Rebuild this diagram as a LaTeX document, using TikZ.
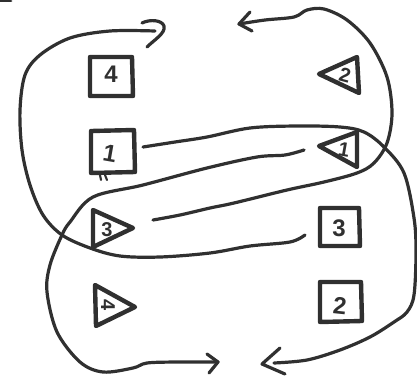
\documentclass[tikz,border=0pt]{standalone}
\usepackage{fontspec}
\setmainfont{Liberation Sans}
\definecolor{ink}{HTML}{303030}
\tikzset{
  x=0.75pt,y=-0.75pt,
  pen/.style={draw=ink,line width=2.1pt,line cap=round,line join=round},
  frame/.style={draw=ink,line width=3.3pt,line cap=round,line join=round},
  curve/.style={draw=ink,line width=2.4pt,line cap=round,line join=round},
  digit/.style={text=ink,inner sep=0pt,font=\bfseries\fontsize{18}{18}\selectfont},
  smalldigit/.style={text=ink,inner sep=0pt,font=\bfseries\fontsize{15}{15}\selectfont},
}
\begin{document}
\begin{tikzpicture}
\useasboundingbox (0,0) rectangle (417,375);
% fragment at the top edge
\draw[pen] (0,1) -- (11,1);
% boxes
\draw[frame] (90,57) -- (132,57) -- (133,96) -- (90,96) -- cycle;
\draw[frame] (91,131) -- (134,130) -- (135,172) -- (91,173) -- cycle;
\draw[frame] (320,208) -- (359,208) -- (360,246) -- (320,246) -- cycle;
\draw[frame] (320,282) -- (361,282) -- (362,321) -- (320,322) -- cycle;
\draw[pen,line width=1.6pt] (100,175) -- (101,180) (105,175) -- (107,180);
% triangles
\draw[frame] (357,57) -- (319,74) -- (359,93) -- cycle;
\draw[frame] (357,132) -- (319,146) -- (357,167) -- cycle;
\draw[frame] (93,210) -- (133,228) -- (93,247) -- cycle;
\draw[frame] (95,285) -- (135,307) -- (96,326) -- cycle;
% labels
\node[digit] (b4) at (111,74) {4};
\node[digit,rotate=-10] (b1) at (110,154) {1};
\node[digit] (b3) at (339,228) {3};
\node[digit,rotate=-6] (b2) at (340,306) {2};
\node[smalldigit,rotate=-15] (t2) at (345,75) {2};
\node[smalldigit,rotate=-10] (t1) at (344,150) {1};
\node[smalldigit] (t3) at (107,230) {3};
\node[smalldigit,rotate=-90] (t4) at (108,305) {4};
% connector ends
\coordinate (aS) at (305,235);
\coordinate (aE) at (155,31);
\coordinate (bS) at (153,220);
\coordinate (bE) at (239,24);
\coordinate (cS) at (143,147);
\coordinate (cE) at (262,364);
\coordinate (dS) at (304,150);
\coordinate (dE) at (218,362);
% curves
\draw[curve] plot[smooth,tension=0.55] coordinates {(aS) (290,242) (250,246) (210,253) (160,257) (120,256) (90,248) (62,235) (43,215) (30,185) (22,150) (20,110) (25,75) (40,55) (70,38) (110,31) (aE)};
\draw[curve] plot[smooth,tension=0.55] coordinates {(bS) (180,215) (210,208) (234,203) (287,190) (324,182) (357,173) (374,163) (387,143) (392,113) (387,77) (370,43) (347,20) (324,9) (307,10) (294,17) (265,20) (bE)};
\draw[curve] plot[smooth,tension=0.55] coordinates {(cS) (175,142) (207,137) (250,128) (297,126) (340,127) (364,132) (384,147) (404,173) (414,218) (416,252) (414,295) (407,312) (394,322) (370,337) (340,350) (307,360) (274,363)};
\draw[curve] plot[smooth,tension=0.55] coordinates {(dS) (285,155) (257,157) (207,168) (143,185) (93,197) (70,222) (62,235) (50,265) (47,292) (57,332) (80,362) (103,372) (133,368) (147,363) (177,362) (dE)};
% arrowheads
\draw[curve] (147,47) .. controls (154,40) and (166,33) .. (164,26) .. controls (162,20) and (150,19) .. (142,23);
\draw[curve] (250,12) -- (bE) -- (252,31);
\draw[curve] (280,348) -- (cE) -- (285,374);
\draw[curve] (207,354) -- (dE) -- (209,373);
\end{tikzpicture}
\end{document}
